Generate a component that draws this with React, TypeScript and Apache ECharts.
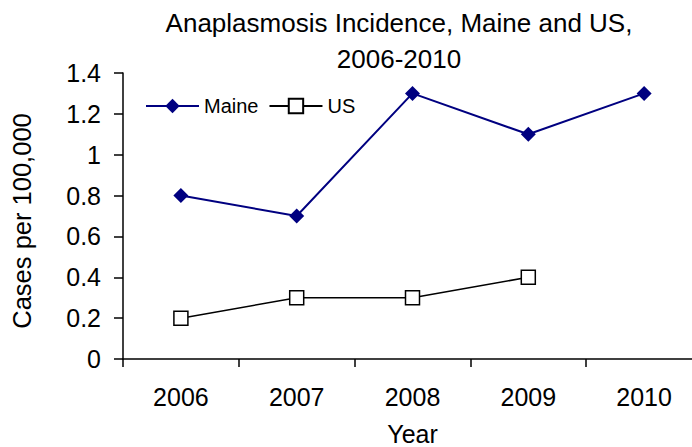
import React, { useEffect, useRef } from "react";
import * as echarts from "echarts";

const years = ["2006", "2007", "2008", "2009", "2010"];
const maine = [0.8, 0.7, 1.3, 1.1, 1.3];
const us: (number | null)[] = [0.2, 0.3, 0.3, 0.4, null];
const titleText = "Anaplasmosis Incidence, Maine and US,\n2006-2010";
const FONT = "'Liberation Sans', Arial, Helvetica, sans-serif";

export default function App() {
  const ref = useRef<HTMLDivElement>(null);
  useEffect(() => {
    document.body.style.margin = "0";
    if (!ref.current) return;
    const chart = echarts.init(ref.current, null, { renderer: "svg" });
    chart.setOption({
      animation: false,
      backgroundColor: "#ffffff",
      textStyle: { fontFamily: FONT, color: "#000" },
      graphic: [
        {
          type: "text",
          x: 399,
          y: 5,
          style: {
            text: titleText,
            textAlign: "center",
            textVerticalAlign: "top",
            font: `26px ${FONT}`,
            lineHeight: 36,
            fill: "#000",
          },
        },
      ],
      legend: {
        left: 145,
        top: 96,
        padding: 0,
        itemWidth: 53,
        itemHeight: 18,
        itemGap: 10,
        textStyle: { fontSize: 20, fontFamily: FONT, color: "#000" },
        data: ["Maine", "US"],
      },
      grid: { left: 123, top: 73, width: 579, height: 286, containLabel: false, outerBoundsMode: "none" },
      xAxis: {
        type: "category",
        data: years,
        boundaryGap: true,
        name: "Year",
        nameLocation: "middle",
        nameGap: 62,
        nameTextStyle: { fontSize: 25, fontFamily: FONT, color: "#000" },
        axisLine: { lineStyle: { color: "#000", width: 1.5 } },
        axisTick: { show: true, length: 8, alignWithLabel: false, lineStyle: { color: "#000", width: 1.5 } },
        axisLabel: { fontSize: 25, fontFamily: FONT, color: "#000", margin: 25 },
        splitLine: { show: false },
      },
      yAxis: {
        type: "value",
        min: 0,
        max: 1.4,
        interval: 0.2,
        name: "Cases per 100,000",
        nameLocation: "middle",
        nameGap: 88,
        nameRotate: 90,
        nameTextStyle: { fontSize: 25.5, fontFamily: FONT, color: "#000", padding: [0, 10, 0, 0] },
        axisLine: { show: true, lineStyle: { color: "#000", width: 1.5 } },
        axisTick: { show: true, length: 9, inside: false, lineStyle: { color: "#000", width: 1.5 } },
        axisLabel: {
          fontSize: 25,
          fontFamily: FONT,
          color: "#000",
          margin: 22,
          formatter: (v: number) => String(Math.round(v * 10) / 10),
        },
        splitLine: { show: false },
      },
      series: [
        {
          name: "Maine",
          type: "line",
          data: maine,
          symbol: "diamond",
          symbolSize: 15,
          lineStyle: { color: "#000080", width: 2 },
          itemStyle: { color: "#000080" },
        },
        {
          name: "US",
          type: "line",
          data: us,
          symbol: "rect",
          symbolSize: 14,
          lineStyle: { color: "#000", width: 1.5 },
          itemStyle: { color: "#fff", borderColor: "#000", borderWidth: 1.5 },
        },
      ],
    });
    return () => chart.dispose();
  }, []);
  return <div ref={ref} style={{ width: 692, height: 447 }} />;
}
